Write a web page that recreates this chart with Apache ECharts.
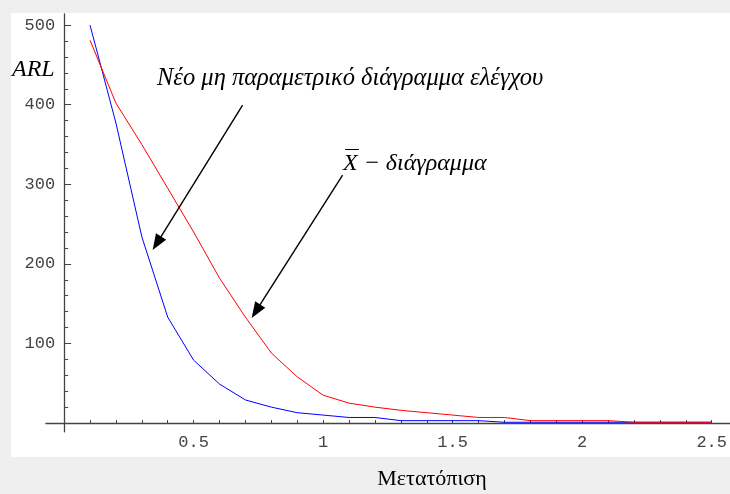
<!DOCTYPE html>
<html><head><meta charset="utf-8">
<script src="https://cdn.jsdelivr.net/npm/echarts@6/dist/echarts.min.js"></script>
<style>html,body{margin:0;padding:0;background:#efefef;}#c{width:730px;height:494px;}</style>
</head><body><div id="c"></div>
<script>
// ---- data ----
const shifts = [0.1,0.2,0.3,0.4,0.5,0.6,0.7,0.8,0.9,1.0,1.1,1.2,1.3,1.4,1.5,1.6,1.7,1.8,1.9,2.0,2.1,2.2,2.3,2.4,2.5];
const arlNew = [500,377,234,133,79,49,29,20,13,10,7,7,3,3,3,3,1,1,1,1,1,1,1,1,1];
const arlXbar = [481,402,350,295,240,182,133,88,58,35,25,20,16,13,10,7,7,3,3,3,3,1,1,1,1];
const xTickLabels = [0.5,1,1.5,2,2.5];
const yTickLabels = [100,200,300,400,500];
const xTicks = [0.1,0.2,0.3,0.4,0.5,0.6,0.7,0.8,0.9,1.0,1.1,1.2,1.3,1.4,1.5,1.6,1.7,1.8,1.9,2.0,2.1,2.2,2.3,2.4,2.5];
const yMinorTicks = [20,40,60,80,120,140,160,180,220,240,260,280,320,340,360,380,420,440,460,480];
// arrow annotations in data coords [start, end]
const arrowNew = [[0.689,399.5],[0.358,225.9]];
const arrowXbar = [[1.075,311.6],[0.7405,140.5]];

const pairs = (xs, ys) => xs.map((x,i)=>[x, ys[i]]);
const axisCol = '#444';
const monoFont = '"Liberation Mono", monospace';

const X_MIN = -0.07, X_MAX = 2.57, GRID_L = 46, GRID_R = 0;
const chart = echarts.init(document.getElementById('c'), null, {renderer:'canvas'});
const pxPerUnit = (730 - GRID_L - GRID_R) / (X_MAX - X_MIN);
const zeroOffset = -(0 - X_MIN) * pxPerUnit;
chart.setOption({
  animation:false,
  backgroundColor:'#efefef',
  grid:{left:GRID_L, right:GRID_R, top:14, bottom:62.2, containLabel:false},
  xAxis:[{
    type:'value', min:X_MIN, max:X_MAX, position:'bottom',
    axisLine:{onZero:true, lineStyle:{color:axisCol, width:1.3}},
    axisTick:{show:true, inside:true, length:3, customValues:xTicks, lineStyle:{color:axisCol}},
    axisLabel:{show:true, customValues:xTickLabels, margin:2, color:'#444', fontFamily:monoFont, fontSize:17},
    splitLine:{show:false}
  }],
  yAxis:[{
    type:'value', min:-11, max:514, position:'left',
    axisLine:{onZero:true, lineStyle:{color:axisCol, width:1.3}},
    axisTick:{show:true, inside:true, length:4, customValues:yMinorTicks, lineStyle:{color:axisCol}},
    axisLabel:{show:false},
    splitLine:{show:false}
  },{
    type:'value', min:-11, max:514, position:'left', offset:zeroOffset,
    axisLine:{show:false, onZero:false},
    axisTick:{show:true, inside:true, length:7, customValues:yTickLabels, lineStyle:{color:axisCol}},
    axisLabel:{show:true, customValues:yTickLabels, margin:9, color:'#444', fontFamily:monoFont, fontSize:17},
    splitLine:{show:false}
  }],
  graphic:[
    {type:'rect', z:-10, silent:true, shape:{x:11,y:13,width:719,height:444}, style:{fill:'#ffffff'}},
    {type:'text', x:12, y:58, style:{text:'ARL', font:'italic 24px "Liberation Serif"', fill:'#000'}},
    {type:'text', x:157, y:66.5, style:{text:'Νέο μη παραμετρικό διάγραμμα ελέγχου', font:'italic 24.5px "Liberation Serif"', fill:'#000'}},
    {type:'text', x:343, y:151.5, style:{text:'X − διάγραμμα', font:'italic 24px "Liberation Serif"', fill:'#000'}},
    {type:'line', shape:{x1:345,y1:149.5,x2:359,y2:149.5}, style:{stroke:'#000', lineWidth:1}},
    {type:'text', x:432, y:468.5, style:{text:'Μετατόπιση', font:'22px "Liberation Serif"', fill:'#000', align:'center'}}
  ],
  series:[
    {type:'line', name:'new', data:pairs(shifts, arlNew), showSymbol:false, symbol:'none',
     lineStyle:{color:'#0000ff', width:1}, z:2,
     markLine:{silent:true, symbol:['none','triangle'], symbolSize:[12,16], label:{show:false},
       lineStyle:{color:'#000', width:1.4, type:'solid'},
       data:[[{coord:arrowNew[0]},{coord:arrowNew[1]}],[{coord:arrowXbar[0]},{coord:arrowXbar[1]}]]}},
    {type:'line', name:'xbar', data:pairs(shifts, arlXbar), showSymbol:false, symbol:'none',
     lineStyle:{color:'#ff0000', width:1}, z:3}
  ]
});
</script></body></html>
